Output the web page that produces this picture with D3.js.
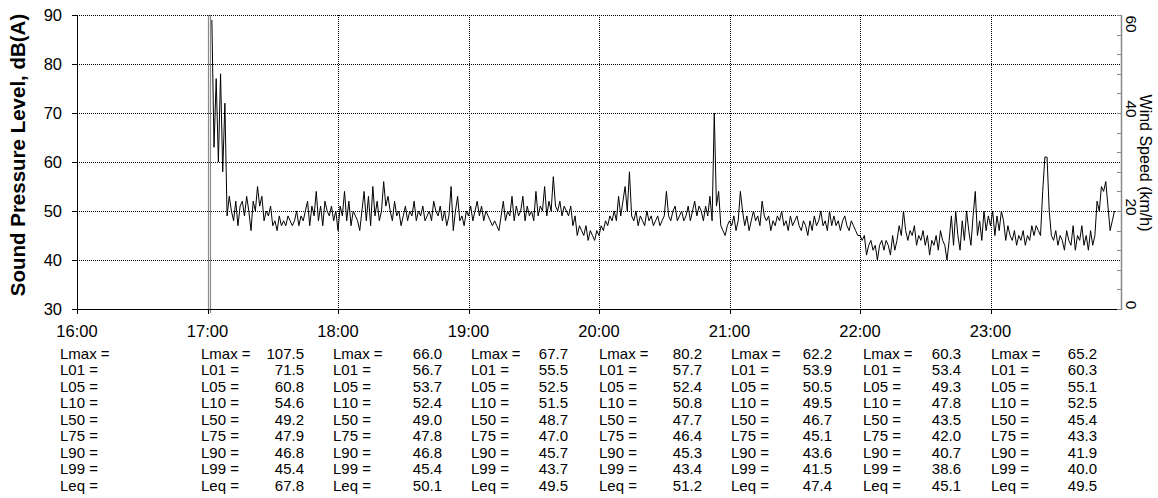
<!DOCTYPE html>
<meta charset="utf-8">
<script src="https://d3js.org/d3.v7.min.js"></script>
<style>
  body { margin: 0; background: #fff; }
  text { font-family: "Liberation Sans", Arial, sans-serif; fill: #000; }
</style>
<div id="chart"></div>
<script>

// hour ticks along the bottom
var hours = ["16:00", "17:00", "18:00", "19:00", "20:00", "21:00", "22:00", "23:00"];

// sound pressure level, dB(A), one value per minute, each block starting at its own time
var spl17Start = "17:02";
var spl17 = [89, 63, 77, 60, 78, 58, 72,
  49, 53, 50, 48, 52, 47, 51, 52, 49, 53, 50, 46,
  52, 50, 55, 51, 53, 48, 50, 49, 51, 47,
  48, 46, 49, 47, 48, 47, 49, 48, 47, 48, 50, 47, 49, 48, 50,
  52, 47, 51, 49, 54, 48, 51, 47, 52, 50, 49, 51, 48, 50];
var spl18Start = "18:00";
var spl18 = [46, 51, 49, 54, 48, 52, 47, 50, 49, 48, 46,
  50, 54, 48, 53, 47, 55, 49, 52, 48, 50,
  56, 51, 53, 50, 48, 52, 49, 50, 47, 49,
  51, 48, 50, 49, 52, 48, 50, 49, 51, 48, 49, 50, 48, 52, 50,
  49, 51, 48, 50, 47, 49, 55, 46, 50, 53, 48, 49, 47, 50];
var spl19Start = "19:00";
var spl19 = [49, 51, 48, 50, 52, 49, 51, 48, 50, 49, 48,
  47, 48, 47, 46, 49, 52, 48, 50, 49, 53,
  48, 51, 49, 50, 53, 48, 51, 49, 50, 48,
  54, 49, 51, 50, 55, 49, 52, 50, 57, 51,
  50, 52, 49, 51, 50, 49, 51, 47, 49, 45,
  47, 46, 45, 47, 44, 46, 45, 44, 46];
var spl20Start = "20:00";
var spl20 = [45, 47, 46, 48, 47, 49, 48, 50, 48, 53, 49,
  52, 55, 50, 58, 49, 48, 50, 47, 49, 48,
  47, 50, 48, 49, 47, 48, 49, 47, 48, 49,
  54, 49, 48, 50, 51, 48, 49, 50, 48, 49,
  51, 48, 50, 52, 49, 51, 50, 48, 51, 49,
  53, 48, 70, 51, 54, 47, 46, 45, 47];
var spl21Start = "21:00";
var spl21 = [48, 47, 49, 46, 48, 54, 50, 47, 49, 46, 48,
  50, 48, 49, 47, 52, 49, 48, 49, 46, 48,
  47, 49, 48, 50, 47, 48, 46, 49, 47, 48,
  49, 47, 46, 48, 47, 45, 48, 46, 49, 47,
  48, 50, 47, 48, 46, 50, 47, 49, 47, 48,
  46, 48, 49, 47, 46, 48, 47, 46, 45];
var spl22Start = "22:00";
var spl22 = [45, 44, 45, 41, 43, 44, 42, 43, 40, 43, 44,
  42, 44, 43, 41, 45, 42, 44, 47, 45, 50,
  46, 44, 46, 45, 47, 43, 45, 44, 46, 43,
  45, 41, 44, 43, 45, 42, 46, 44, 43, 40,
  44, 49, 43, 50, 45, 42, 48, 44, 50, 46,
  43, 49, 54, 45, 48, 44, 50, 46, 49];
var spl23Start = "23:00";
var spl23 = [47, 50, 45, 49, 46, 50, 48, 44, 47, 45, 44,
  46, 43, 45, 44, 46, 43, 45, 44, 47, 45,
  47, 46, 45, 54, 61, 61, 50, 45, 44, 46,
  43, 45, 44, 42, 46, 44, 43, 47, 42, 45,
  44, 47, 43, 45, 42, 46, 43, 45, 52, 50,
  55, 54, 56, 51, 46, 48, 50];

// grey start-of-record markers
var markerTimes = ["17:00", "17:01"];

// hourly statistics (16:00 column is empty)
var statNames = ["Lmax", "L01", "L05", "L10", "L50", "L75", "L90", "L99", "Leq"];
var lmax = [null, 107.5, 66.0, 67.7, 80.2, 62.2, 60.3, 65.2];
var l01  = [null, 71.5, 56.7, 55.5, 57.7, 53.9, 53.4, 60.3];
var l05  = [null, 60.8, 53.7, 52.5, 52.4, 50.5, 49.3, 55.1];
var l10  = [null, 54.6, 52.4, 51.5, 50.8, 49.5, 47.8, 52.5];
var l50  = [null, 49.2, 49.0, 48.7, 47.7, 46.7, 43.5, 45.4];
var l75  = [null, 47.9, 47.8, 47.0, 46.4, 45.1, 42.0, 43.3];
var l90  = [null, 46.8, 46.8, 45.7, 45.3, 43.6, 40.7, 41.9];
var l99  = [null, 45.4, 45.4, 43.7, 43.4, 41.5, 38.6, 40.0];
var leq  = [null, 67.8, 50.1, 49.5, 51.2, 47.4, 45.1, 49.5];

var splTicks = [30, 40, 50, 60, 70, 80, 90];
var windTicks = [0, 20, 40, 60];

// layout
var W = 1158, H = 498;
var pLeft = 77, pRight = 1121, pTop = 15, pBottom = 309;
var colLeft = [60, 201, 333, 471, 599, 731, 863, 991];
var colRight = [null, 304, 442, 568, 702, 832, 961, 1097];

function mins(t) {
  var p = t.split(":");
  return (+p[0] - 16) * 60 + (+p[1]);
}

var svg = d3.select("#chart").append("svg")
  .attr("width", W).attr("height", H);

var x = d3.scaleLinear().domain([0, 480]).range([pLeft, pRight]);
var y = d3.scaleLinear().domain([30, 90]).range([pBottom, pTop]);
var yw = d3.scaleLinear().domain([0, 60]).range([pBottom, pTop]);

function px(v) { return Math.round(v) + 0.5; }

// horizontal grid
svg.append("g").selectAll("line")
  .data(splTicks.filter(function(d) { return d > 30; }))
  .enter().append("line")
  .attr("x1", pLeft).attr("x2", pRight)
  .attr("y1", function(d) { return px(y(d)); })
  .attr("y2", function(d) { return px(y(d)); })
  .attr("stroke", "#000").attr("stroke-width", 1)
  .attr("stroke-dasharray", "1,1");

// vertical grid
svg.append("g").selectAll("line")
  .data(hours.slice(1))
  .enter().append("line")
  .attr("x1", function(d) { return px(x(mins(d))); })
  .attr("x2", function(d) { return px(x(mins(d))); })
  .attr("y1", pTop).attr("y2", pBottom)
  .attr("stroke", "#000").attr("stroke-width", 1)
  .attr("stroke-dasharray", "1,1");

// start markers
svg.append("g").selectAll("line")
  .data(markerTimes)
  .enter().append("line")
  .attr("x1", function(d) { return px(x(mins(d))); })
  .attr("x2", function(d) { return px(x(mins(d))); })
  .attr("y1", pTop).attr("y2", pBottom + 4)
  .attr("stroke", "#8a8a8a").attr("stroke-width", 1.2);

// sound level trace
var blocks = [[spl17Start, spl17], [spl18Start, spl18], [spl19Start, spl19],
  [spl20Start, spl20], [spl21Start, spl21], [spl22Start, spl22], [spl23Start, spl23]];
var points = [];
blocks.forEach(function(b) {
  var m0 = mins(b[0]);
  b[1].forEach(function(v, i) { points.push({t: m0 + i, v: v}); });
});

svg.append("path")
  .datum(points)
  .attr("fill", "none")
  .attr("stroke", "#000")
  .attr("stroke-width", 1)
  .attr("stroke-linejoin", "round")
  .attr("d", d3.line()
    .x(function(d) { return x(d.t); })
    .y(function(d) { return y(d.v); }));

// left axis
svg.append("line")
  .attr("x1", px(pLeft)).attr("x2", px(pLeft))
  .attr("y1", pTop).attr("y2", pBottom + 1)
  .attr("stroke", "#000");
svg.append("g").selectAll("line")
  .data(splTicks)
  .enter().append("line")
  .attr("x1", pLeft - 5).attr("x2", pLeft)
  .attr("y1", function(d) { return px(y(d)); })
  .attr("y2", function(d) { return px(y(d)); })
  .attr("stroke", "#000");
svg.append("g").selectAll("text")
  .data(splTicks)
  .enter().append("text")
  .attr("x", 62)
  .attr("y", function(d) { return y(d) + 6; })
  .attr("text-anchor", "end")
  .style("font-size", "16.5px")
  .text(function(d) { return d; });

// bottom axis
svg.append("line")
  .attr("x1", pLeft).attr("x2", pRight)
  .attr("y1", px(pBottom)).attr("y2", px(pBottom))
  .attr("stroke", "#000");
svg.append("g").selectAll("line")
  .data(hours)
  .enter().append("line")
  .attr("x1", function(d) { return px(x(mins(d))); })
  .attr("x2", function(d) { return px(x(mins(d))); })
  .attr("y1", pBottom).attr("y2", pBottom + 5)
  .attr("stroke", "#000");
svg.append("g").selectAll("text")
  .data(hours)
  .enter().append("text")
  .attr("x", function(d) { return x(mins(d)); })
  .attr("y", 337)
  .attr("text-anchor", "middle")
  .style("font-size", "16.5px")
  .text(function(d) { return d; });

// right (wind) axis
svg.append("line")
  .attr("x1", px(pRight)).attr("x2", px(pRight))
  .attr("y1", pTop).attr("y2", pBottom + 1)
  .attr("stroke", "#888").attr("stroke-width", 1.5);
svg.append("g").selectAll("line")
  .data(d3.range(0, 61, 4))
  .enter().append("line")
  .attr("x1", pRight - 4).attr("x2", pRight)
  .attr("y1", function(d) { return px(yw(d)); })
  .attr("y2", function(d) { return px(yw(d)); })
  .attr("stroke", "#888");
svg.append("g").selectAll("text")
  .data(windTicks)
  .enter().append("text")
  .attr("transform", function(d) {
    var yc = Math.max(yw(d) - 4, pTop + 9);
    return "translate(1126," + yc + ") rotate(90)";
  })
  .attr("text-anchor", "middle")
  .style("font-size", "15.5px")
  .text(function(d) { return d; });

// axis titles
svg.append("text")
  .attr("transform", "translate(25,155) rotate(-90)")
  .attr("text-anchor", "middle")
  .style("font-size", "20.5px")
  .style("font-weight", "bold")
  .text("Sound Pressure Level, dB(A)");

svg.append("text")
  .attr("transform", "translate(1140,163) rotate(90)")
  .attr("text-anchor", "middle")
  .style("font-size", "16px")
  .text("Wind Speed (km/h)");

// statistics table
var statValues = [lmax, l01, l05, l10, l50, l75, l90, l99, leq];
var table = svg.append("g").style("font-size", "15px");
statNames.forEach(function(name, r) {
  var yy = 359 + r * 16.46;
  hours.forEach(function(h, c) {
    table.append("text")
      .attr("x", colLeft[c]).attr("y", yy)
      .text(name + " =");
    var v = statValues[r][c];
    if (v != null) {
      table.append("text")
        .attr("x", colRight[c]).attr("y", yy)
        .attr("text-anchor", "end")
        .text(v.toFixed(1));
    }
  });
});

</script>
